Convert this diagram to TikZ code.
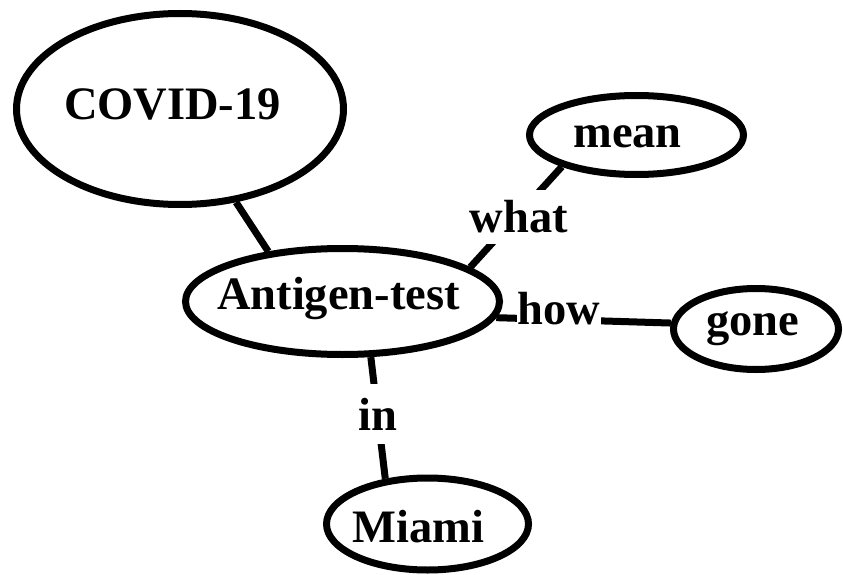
\documentclass[tikz,border=0pt]{standalone}
\usepackage{fontspec}
\setmainfont{Liberation Serif}
\usetikzlibrary{shapes.geometric}
% zero-width box so the ellipse size is set by minimum width/height only;
% the optional kern nudges the word sideways inside its bubble
\newcommand\bubtext[2]{\makebox[0pt]{\hspace*{#1}#2}}
\tikzset{
  every node/.style={font=\fontsize{46.5}{56}\selectfont\bfseries},
  bubble/.style={ellipse, draw, line width=7pt, inner sep=0pt, text depth=0pt},
  link/.style={line width=7pt},
  tag/.style={fill=white, inner xsep=1pt},
}
\begin{document}
\begin{tikzpicture}[x=1pt, y=-1pt]
  \path[fill=white, use as bounding box] (0,0) rectangle (843,575);

  % concepts
  \node[bubble, minimum width=327pt, minimum height=191pt, text height=22pt]
    (covid) at (180,109) {\bubtext{-15pt}{COVID-19}};
  \node[bubble, minimum width=314pt, minimum height=106pt, text height=15pt]
    (antigen) at (342.5,301.5) {\bubtext{-8pt}{Antigen-test}};
  \node[bubble, minimum width=214pt, minimum height=79pt, text height=24pt]
    (mean) at (636.5,135) {\bubtext{-18pt}{mean}};
  \node[bubble, minimum width=165pt, minimum height=81pt, text height=12pt]
    (gone) at (756,329) {\bubtext{-7pt}{gone}};
  \node[bubble, minimum width=202pt, minimum height=92pt, text height=36pt]
    (miami) at (427.5,524) {\bubtext{-18pt}{Miami}};

  % relations
  \draw[link] (covid.-59) -- (antigen.146);
  \draw[link] (mean.203) --
    node[tag, pos=0.5, xshift=3pt, inner ysep=11pt] (lblwhat) {what}
    (antigen.15);
  \draw[link] (antigen.-6) --
    node[tag, pos=0.36, anchor=base, yshift=-5.3pt, inner ysep=2pt] (lblhow) {how}
    (gone.176);
  \draw[link] (antigen.-63) --
    node[tag, pos=0.47, inner ysep=14pt] (lblin) {in}
    (miami.133);
\end{tikzpicture}
\end{document}
